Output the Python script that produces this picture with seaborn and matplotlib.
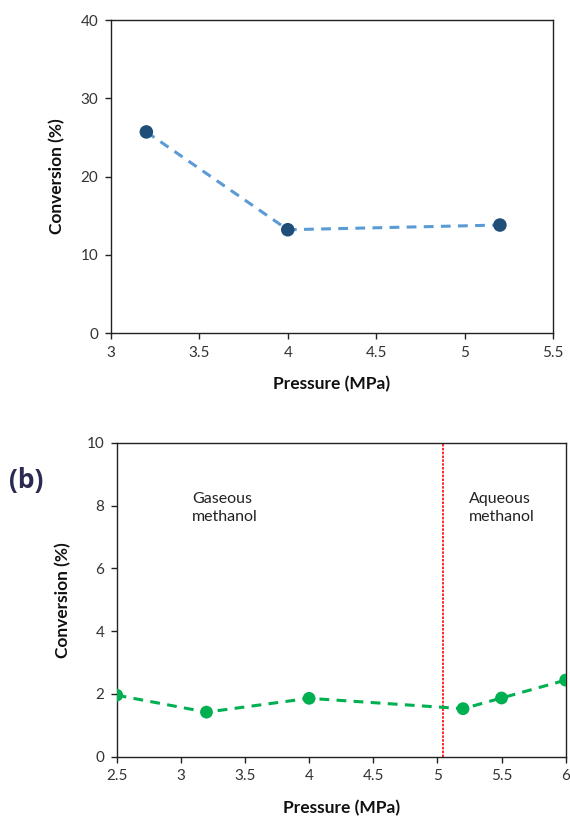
import matplotlib
matplotlib.use("Agg")
import matplotlib.pyplot as plt
import seaborn as sns
import pandas as pd

# Panel (a): conversion vs pressure
pressure_a = [3.2, 4.0, 5.2]
conversion_a = [25.7, 13.2, 13.8]

# Panel (b): conversion vs pressure, gaseous / aqueous methanol
pressure_b = [2.5, 3.2, 4.0, 5.2, 5.5, 6.0]
conversion_b = [1.96, 1.42, 1.86, 1.53, 1.87, 2.44]
phase_boundary = 5.04

xticks_a = [3, 3.5, 4, 4.5, 5, 5.5]
yticks_a = [0, 10, 20, 30, 40]
xticks_b = [2.5, 3, 3.5, 4, 4.5, 5, 5.5, 6]
yticks_b = [0, 2, 4, 6, 8, 10]

sns.set_theme(style="white")
plt.rcParams["font.family"] = ["Lato", "DejaVu Sans"]

fig = plt.figure(figsize=(5.7, 8.18), dpi=100)
ax1 = fig.add_axes([0.1947, 0.5929, 0.7754, 0.3826])
ax2 = fig.add_axes([0.2047, 0.0749, 0.7877, 0.3839])

df_a = pd.DataFrame({"p": pressure_a, "c": conversion_a})
df_b = pd.DataFrame({"p": pressure_b, "c": conversion_b})

sns.lineplot(data=df_a, x="p", y="c", ax=ax1, color="#5b9bd5", lw=2.2,
             linestyle=(0, (3.2, 2.4)), zorder=2)
sns.scatterplot(data=df_a, x="p", y="c", ax=ax1, color="#1f4e79", s=95,
                edgecolor="none", zorder=3)

sns.lineplot(data=df_b, x="p", y="c", ax=ax2, color="#00b050", lw=2.2,
             linestyle=(0, (3.2, 2.4)), zorder=2)
sns.scatterplot(data=df_b, x="p", y="c", ax=ax2, color="#00b050", s=85,
                edgecolor="none", zorder=3)
ax2.axvline(phase_boundary, color="#ff0000", lw=1.2, linestyle=(0, (1.5, 0.8)), zorder=1)

ax1.set_xlim(3, 5.5)
ax1.set_ylim(0, 40)
ax1.set_xticks(xticks_a)
ax1.set_xticklabels(["3", "3.5", "4", "4.5", "5", "5.5"])
ax1.set_yticks(yticks_a)

ax2.set_xlim(2.5, 6)
ax2.set_ylim(0, 10)
ax2.set_xticks(xticks_b)
ax2.set_xticklabels(["2.5", "3", "3.5", "4", "4.5", "5", "5.5", "6"])
ax2.set_yticks(yticks_b)

for ax in (ax1, ax2):
    for s in ax.spines.values():
        s.set_color("#222222")
        s.set_linewidth(1.0)
        s.set_visible(True)
    ax.tick_params(axis="both", direction="out", length=4, width=1.0,
                   color="#222222", labelsize=11, labelcolor="#333333",
                   bottom=True, left=True, pad=5)
    ax.set_xlabel("Pressure (MPa)", fontsize=12.5, fontweight="bold", color="#111111", labelpad=12)
    ax.set_ylabel("Conversion (%)", fontsize=12.5, fontweight="bold", color="#111111", labelpad=11)

ax2.text(3.09, 7.92, "Gaseous\nmethanol", fontsize=11.5, color="#222222",
         ha="left", va="center", linespacing=1.4)
ax2.text(5.245, 7.92, "Aqueous\nmethanol", fontsize=11.5, color="#222222",
         ha="left", va="center", linespacing=1.4)

fig.text(0.015, 0.412, "(b)", fontsize=19, fontweight="bold", color="#2b2b52",
         ha="left", va="center", family=["Open Sans", "DejaVu Sans"])

fig.savefig("out.png", dpi=100, facecolor="white")
